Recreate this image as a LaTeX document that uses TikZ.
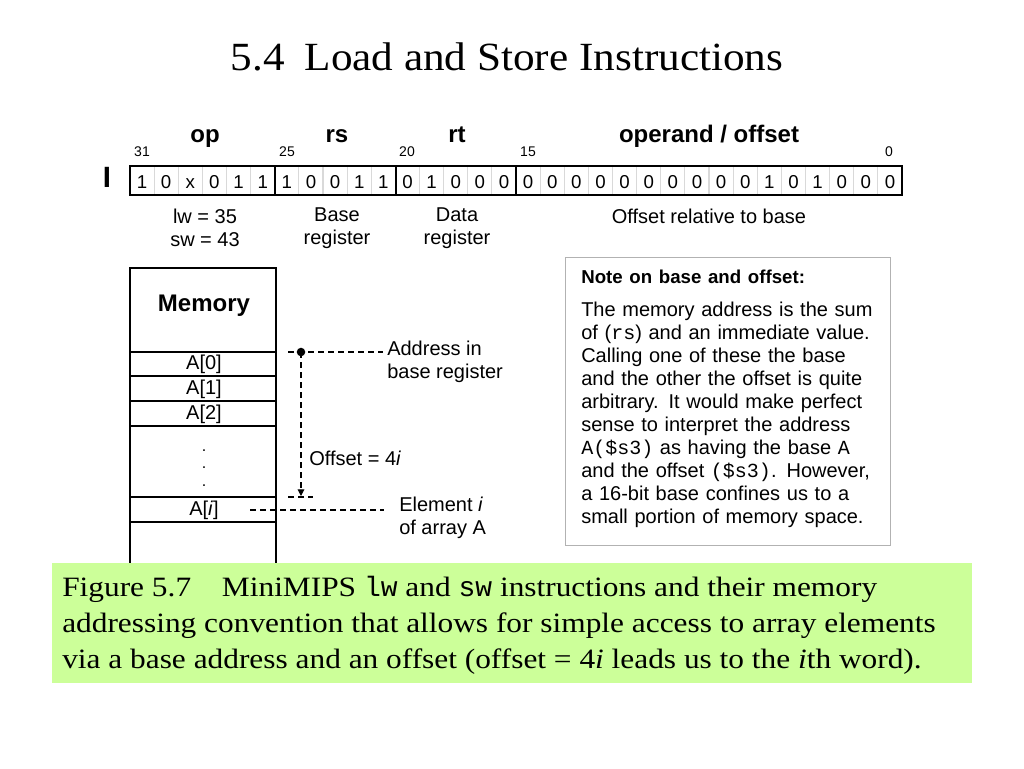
\documentclass[tikz,border=0pt]{standalone}
\usepackage{fontspec}
\setmainfont{Liberation Serif}
\setsansfont{Liberation Sans}
\setmonofont{Liberation Mono}
\newfontfamily\palfont[FakeStretch=1.08]{Liberation Serif}
\newfontfamily\capfont[FakeStretch=1.12]{Liberation Serif}
\usetikzlibrary{arrows.meta}
\definecolor{capgreen}{RGB}{204,255,153}
\begin{document}
\begin{tikzpicture}[x=0.75pt,y=-0.75pt,
  lab/.style={font=\sffamily\fontsize{15}{17}\selectfont, inner sep=0pt},
  dotlab/.style={font=\sffamily\fontsize{12}{13.1}\selectfont, inner sep=0pt, align=center},
  fname/.style={font=\sffamily\bfseries\fontsize{18}{20}\selectfont, inner sep=0pt, anchor=base},
  bitno/.style={font=\sffamily\fontsize{10.5}{12}\selectfont, inner sep=0pt, anchor=base},
  bitcell/.style={font=\sffamily\fontsize{14}{16}\selectfont, inner sep=0pt, anchor=base, text height=10pt, text depth=0pt},
  fieldbox/.style={draw=black, line width=1.6pt},
  memline/.style={draw=black, line width=0.9pt},
  dashline/.style={draw=black, line width=0.8pt, dash pattern=on 4.5pt off 3pt},
  notebox/.style={draw=black!30, line width=0.9pt, inner sep=0pt, minimum width=243.75pt, minimum height=216pt},
  notetext/.style={inner sep=0pt, text width=222pt, align=left, font=\sffamily\fontsize{15}{17.25}\selectfont},
  captionbox/.style={fill=capgreen, inner sep=0pt, minimum width=690pt, minimum height=90pt},
]
\useasboundingbox (0,0) rectangle (1024,768);

% title
\node[font=\palfont\fontsize{30}{34}\selectfont, inner sep=0pt] (title) at (507,57) {5.4\hspace{0.5em}Load and Store Instructions};

% instruction format
\node[font=\sffamily\bfseries\fontsize{22}{24}\selectfont, inner sep=0pt] (iname) at (107,177) {I};
\foreach \b [count=\i from 0] in {1,0,x,0,1,1,1,0,0,1,1,0,1,0,0,0,0,0,0,0,0,0,0,0,0,0,1,0,1,0,0,0}
  \node[bitcell] (b\i) at ({130+24.125*(\i+0.5)},188) {\b};
\foreach \i in {1,...,31}
  \draw[black!15, line width=0.8pt] ({130+24.125*\i},166) -- ({130+24.125*\i},195);
\draw[fieldbox] (130,166) rectangle (274.75,195);
\draw[fieldbox] (274.75,166) rectangle (395.6,195);
\draw[fieldbox] (395.6,166) rectangle (516.25,195);
\draw[fieldbox] (516.25,166) rectangle (902,195);

\node[bitno] (n31) at (142,156) {31};
\node[bitno] (n25) at (287,156) {25};
\node[bitno] (n20) at (407,156) {20};
\node[bitno] (n15) at (528,156) {15};
\node[bitno] (n0) at (889,156) {0};

\node[fname] (fop) at (205,142) {op};
\node[fname] (frs) at (337,142) {rs};
\node[fname] (frt) at (457,142) {rt};
\node[fname] (fimm) at (709,142) {operand / offset};

\node[lab, align=center] (lop) at (205,228) {lw = 35\\sw = 43};
\node[lab, align=center] (lrs) at (337,228) {Base\\register};
\node[lab, align=center] (lrt) at (457,228) {Data\\register};
\node[lab] (limm) at (709,216) {Offset relative to base};

% memory
\draw[memline] (130,575) -- (130,268) -- (276,268) -- (276,575);
\foreach \y in {352,376,401,426,497,522}
  \draw[memline] (130,\y) -- (276,\y);
\node[fname] (mem) at (204,311) {Memory};
\node[lab] (a0) at (204,364) {A[0]};
\node[lab] (a1) at (204,389) {A[1]};
\node[lab] (a2) at (204,414) {A[2]};
\node[dotlab] (dots) at (204,468) {.\\.\\.};
\node[lab] (ai) at (204,510) {A[\textit{i}]};

% dashed connectors
\coordinate (baseL) at (288,352);
\coordinate (baseP) at (301,352);
\coordinate (baseR) at (383,352);
\coordinate (offEnd) at (301,496);
\coordinate (offL) at (288,497);
\coordinate (offR) at (313,497);
\coordinate (elL) at (250,510);
\coordinate (elR) at (384,510);
\draw[dashline] (baseL) -- (baseR);
\fill (baseP) circle (3.2pt);
\draw[dashline, -{Triangle[width=5pt,length=5pt]}] (baseP) -- (offEnd);
\draw[dashline] (offL) -- (offR);
\draw[dashline] (elL) -- (elR);

\node[lab, align=left, anchor=west] (addr) at (387,362) {Address in\\base register};
\node[lab, anchor=west] (offlab) at (309,458) {Offset = 4\textit{i}};
\node[lab, align=left, anchor=west] (elem) at (399,518) {Element \textit{i}\\of array A};

% note
\node[notebox, anchor=north west] (note) at (565,257) {};
\node[notetext, anchor=north west] (notetxt) at (581,270) {%
{\bfseries\fontsize{14}{17}\selectfont Note on base and offset:}\\[7pt]
The memory address is the sum\\
of (\texttt{rs}) and an immediate value.\\
Calling one of these the base\\
and the other the offset is quite\\
arbitrary. It would make perfect\\
sense to interpret the address\\
\texttt{A(\$s3)} as having the base \texttt{A}\\
and the offset \texttt{(\$s3)}. However,\\
a 16-bit base confines us to a\\
small portion of memory space.};

% caption
\node[captionbox, anchor=north west] (cap) at (52,563) {};
\node[font=\capfont\fontsize{21}{27}\selectfont, inner sep=0pt, anchor=north west, align=left] (captext) at (62,576) {%
Figure 5.7\hspace{1.1em}MiniMIPS \texttt{lw} and \texttt{sw} instructions and their memory\\
addressing convention that allows for simple access to array elements\\
via a base address and an offset (offset = 4\textit{i} leads us to the \textit{i}th word).};
\end{tikzpicture}
\end{document}
